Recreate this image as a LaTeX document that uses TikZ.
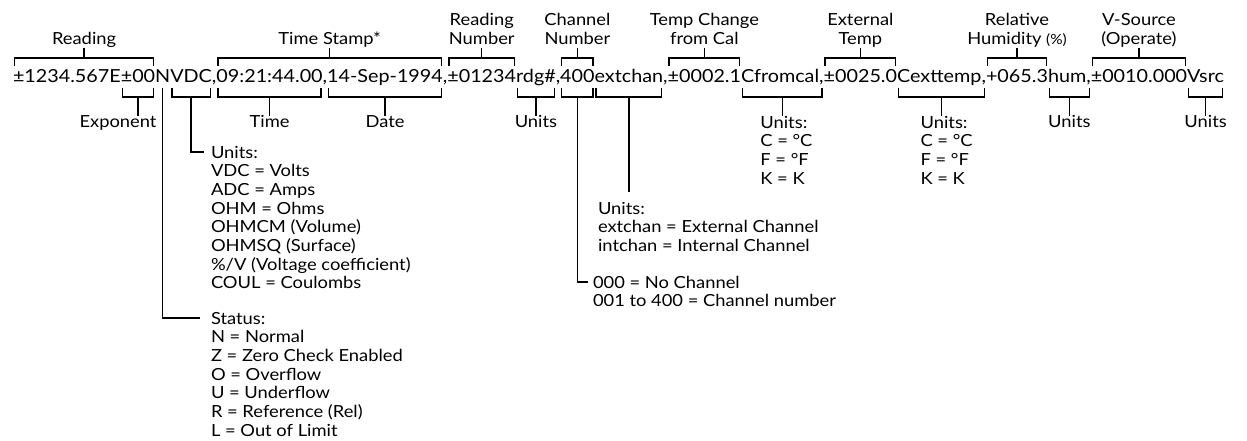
\documentclass[tikz,border=0pt]{standalone}
\usepackage{fontspec}
\setmainfont[FakeStretch=1.1]{Lato}
\usepackage{graphicx}
\usetikzlibrary{calc}
\newlength\mainw
\newcommand\mainline{±1234.567E±00NVDC,09:21:44.00,14-Sep-1994,±01234rdg\#,400extchan,±0002.1Cfromcal,±0025.0Cexttemp,+065.3hum,±0010.000Vsrc}
\newcommand\txtfont{\fontsize{12.5pt}{14pt}\selectfont}
\newcommand\mainfontsz{\fontsize{13.5pt}{14pt}\selectfont}
\newcommand\seg[3]{\node[mseg, anchor=base west] (#1) at (#2.base east) {\scalebox{\sx}[1]{#3}};}
\newcommand\tbr[3]{%
  \draw ($(#1.west |- T1)+(1.5,0)$) -- ($(#1.west |- T0)+(1.5,0)$) -- ($(#2.east |- T0)+(-1.5,0)$) -- ($(#2.east |- T1)+(-1.5,0)$);
  \coordinate (#3) at ($(#1.west |- T0)!0.5!(#2.east |- T0)$);}
\newcommand\bbr[3]{%
  \draw ($(#1.west |- B1)+(1.5,0)$) -- ($(#1.west |- B0)+(1.5,0)$) -- ($(#2.east |- B0)+(-1.5,0)$) -- ($(#2.east |- B1)+(-1.5,0)$);
  \coordinate (#3) at ($(#1.west |- B0)!0.5!(#2.east |- B0)$);}
\tikzset{
  mseg/.style={font=\mainfontsz},
  lab/.style={anchor=south, align=center, text depth=2.5pt},
  blab/.style={anchor=north, text height=9pt},
  lst/.style={anchor=north west, align=left},
}
\begin{document}
\settowidth\mainw{\mainfontsz\mainline}%
\pgfmathsetmacro\sx{(1224-13)*0.75/\mainw}%
\begin{tikzpicture}[x=0.75pt,y=-0.75pt, line width=1.1pt,
  every node/.style={inner sep=0pt, outer sep=0pt, font=\txtfont}]
\useasboundingbox (0,0) rectangle (1247,441);
\coordinate (T0) at (0,58);
\coordinate (T1) at (0,66);
\coordinate (B1) at (0,88);
\coordinate (B0) at (0,97);
% main line
\node[mseg, anchor=base west] (s1) at (13,83) {\scalebox{\sx}[1]{±1234.567E}};
\seg{s2}{s1}{±00}
\seg{s3}{s2}{N}
\seg{s4}{s3}{VDC}
\seg{s5}{s4}{,}
\seg{s6}{s5}{09:21:44.00}
\seg{s7}{s6}{,}
\seg{s8}{s7}{14-Sep-1994}
\seg{s9}{s8}{,}
\seg{s10}{s9}{±01234}
\seg{s11}{s10}{rdg\#}
\seg{s12}{s11}{,}
\seg{s13}{s12}{400}
\seg{s14}{s13}{extchan}
\seg{s15}{s14}{,}
\seg{s16}{s15}{±0002.1}
\seg{s17}{s16}{Cfromcal,}
\seg{s18}{s17}{±0025.0}
\seg{s19}{s18}{Cexttemp,}
\seg{s20}{s19}{+065.3}
\seg{s21}{s20}{hum,}
\seg{s22}{s21}{±0010.000}
\seg{s23}{s22}{Vsrc}
% top brackets and labels
\tbr{s1}{s2}{tRead}
\node[lab] (lRead) at ($(tRead)+(0,-10)$) {Reading};
\draw (lRead.south) -- (tRead);
\tbr{s6}{s8}{tStamp}
\node[lab] (lStamp) at ($(tStamp)+(0,-10)$) {Time Stamp*};
\draw (lStamp.south) -- (tStamp);
\tbr{s10}{s10}{tRnum}
\node[lab] (lRnum) at ($(tRnum)+(0,-10)$) {Reading\\Number};
\draw (lRnum.south) -- (tRnum);
\tbr{s13}{s13}{tChan}
\node[lab] (lChan) at ($(tChan)+(0,-10)$) {Channel\\Number};
\draw (lChan.south) -- (tChan);
\tbr{s16}{s16}{tTcal}
\node[lab] (lTcal) at ($(tTcal)+(0,-10)$) {Temp Change\\from Cal};
\draw (lTcal.south) -- (tTcal);
\tbr{s18}{s18}{tExt}
\node[lab] (lExt) at ($(tExt)+(0,-10)$) {External\\Temp};
\draw (lExt.south) -- (tExt);
\tbr{s20}{s20}{tHum}
\node[lab] (lHum) at ($(tHum)+(0,-10)$) {Relative\\Humidity {\fontsize{10.5pt}{14pt}\selectfont(\%)}};
\draw (lHum.south) -- (tHum);
\tbr{s22}{s22}{tVs}
\node[lab] (lVs) at ($(tVs)+(0,-10)$) {V-Source\\(Operate)};
\draw (lVs.south) -- (tVs);
% bottom brackets and labels
\bbr{s2}{s2}{bExp}
\node[blab] (lExp) at ($(bExp)+(-20,19)$) {Exponent};
\draw (bExp) -- (bExp |- lExp.north);
\bbr{s6}{s6}{bTime}
\node[blab] (lTime) at ($(bTime)+(0,19)$) {Time};
\draw (bTime) -- (lTime.north);
\bbr{s8}{s8}{bDate}
\node[blab] (lDate) at ($(bDate)+(0,19)$) {Date};
\draw (bDate) -- (lDate.north);
\bbr{s11}{s11}{bRdg}
\node[blab] (lRdg) at ($(bRdg)+(0,19)$) {Units};
\draw (bRdg) -- (lRdg.north);
\bbr{s21}{s21}{bHum}
\node[blab] (lHumU) at ($(bHum)+(0,19)$) {Units};
\draw (bHum) -- (lHumU.north);
\bbr{s23}{s23}{bVs}
\node[blab] (lVsU) at ($(bVs)+(0,19)$) {Units};
\draw (bVs) -- (lVsU.north);
\bbr{s17}{s17}{bTcal}
\node[lst] (lTcalU) at ($(bTcal)+(-22,19)$) {Units:\\C = °C\\F = °F\\K = K};
\draw (bTcal) -- (bTcal |- lTcalU.north);
\bbr{s19}{s19}{bExt}
\node[lst] (lExtU) at ($(bExt)+(-21,19)$) {Units:\\C = °C\\F = °F\\K = K};
\draw (bExt) -- (bExt |- lExtU.north);
% VDC units list
\bbr{s4}{s4}{bVdc}
\node[lst] (lVdc) at (211,146) {Units:\\VDC = Volts\\ADC = Amps\\OHM = Ohms\\OHMCM (Volume)\\OHMSQ (Surface)\\\%/V (Voltage coefficient)\\COUL = Coulombs};
\draw (bVdc) |- ($(lVdc.north west)+(-7,6)$);
% status list
\coordinate (nTop) at (s3.south |- B1);
\node[lst] (lStat) at (211,312) {Status:\\N = Normal\\Z = Zero Check Enabled\\O = Overflow\\U = Underflow\\R = Reference (Rel)\\L = Out of Limit};
\draw (nTop) |- ($(lStat.north west)+(-11,6)$);
% channel
\bbr{s13}{s13}{bChan}
\node[lst] (lChanL) at (593,276) {000 = No Channel\\001 to 400 = Channel number};
\draw (bChan) |- ($(lChanL.north west)+(-5,6)$);
\bbr{s14}{s14}{bExtc}
\node[lst] (lExtc) at (598,202) {Units:\\extchan = External Channel\\intchan = Internal Channel};
\draw (bExtc) -- ($(bExtc |- lExtc.north)+(0,-10)$);
\end{tikzpicture}
\end{document}
